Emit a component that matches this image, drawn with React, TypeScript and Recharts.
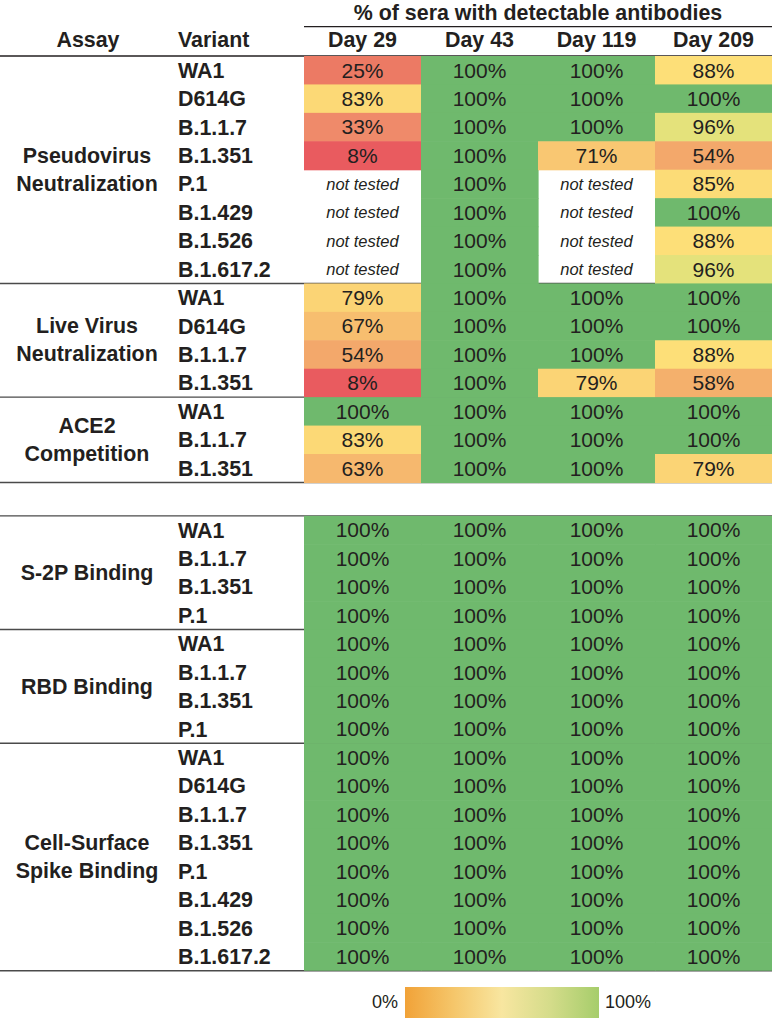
import React from 'react';
import { ScatterChart, Scatter, XAxis, YAxis, ReferenceLine } from 'recharts';

// ---------- data ----------
const days = ['Day 29', 'Day 43', 'Day 119', 'Day 209'];
const title = '% of sera with detectable antibodies';
const assayNames: string[][] = [
  ['Pseudovirus', 'Neutralization'],
  ['Live Virus', 'Neutralization'],
  ['ACE2', 'Competition'],
  ['S-2P Binding'],
  ['RBD Binding'],
  ['Cell-Surface', 'Spike Binding'],
];
const assaySizes = [8, 4, 3, 4, 4, 8];
const variants = [
  'WA1', 'D614G', 'B.1.1.7', 'B.1.351', 'P.1', 'B.1.429', 'B.1.526', 'B.1.617.2',
  'WA1', 'D614G', 'B.1.1.7', 'B.1.351',
  'WA1', 'B.1.1.7', 'B.1.351',
  'WA1', 'B.1.1.7', 'B.1.351', 'P.1',
  'WA1', 'B.1.1.7', 'B.1.351', 'P.1',
  'WA1', 'D614G', 'B.1.1.7', 'B.1.351', 'P.1', 'B.1.429', 'B.1.526', 'B.1.617.2',
];
const day29 = [
  25, 83, 33, 8, null, null, null, null,
  79, 67, 54, 8,
  100, 83, 63,
  100, 100, 100, 100,
  100, 100, 100, 100,
  100, 100, 100, 100, 100, 100, 100, 100,
];
const day43 = [
  100, 100, 100, 100, 100, 100, 100, 100,
  100, 100, 100, 100,
  100, 100, 100,
  100, 100, 100, 100,
  100, 100, 100, 100,
  100, 100, 100, 100, 100, 100, 100, 100,
];
const day119 = [
  100, 100, 100, 71, null, null, null, null,
  100, 100, 100, 79,
  100, 100, 100,
  100, 100, 100, 100,
  100, 100, 100, 100,
  100, 100, 100, 100, 100, 100, 100, 100,
];
const day209 = [
  88, 100, 96, 54, 85, 100, 88, 96,
  100, 100, 88, 58,
  100, 100, 79,
  100, 100, 100, 100,
  100, 100, 100, 100,
  100, 100, 100, 100, 100, 100, 100, 100,
];
const seriesByDay = [day29, day43, day119, day209];
const legendTicks = ['0%', '100%'];

// ---------- layout / style ----------
const W = 772;
const H = 1026;
const PLOT_LEFT = 304;
const PLOT_TOP = 56;
const PLOT_BOTTOM = 970.7;
const GAP = 1.175; // blank band between the two tables, in row units
const GAP_BEFORE_GROUP = 3;
const FONT = '"Liberation Sans", Arial, Helvetica, sans-serif';
const INK = '#231f20';
const BOLD_SIZE = 21.4;
const VALUE_SIZE = 21;

const rowGroup: number[] = [];
assaySizes.forEach((n, g) => {
  for (let i = 0; i < n; i++) rowGroup.push(g);
});
const rowY = rowGroup.map((g, r) => r + 0.5 + (g >= GAP_BEFORE_GROUP ? GAP : 0));
const TOTAL = variants.length + GAP;
const groupBounds = assaySizes.map((n, g) => {
  const first = rowGroup.indexOf(g);
  const last = first + n - 1;
  return [rowY[first] - 0.5, rowY[last] + 0.5];
});
const groupCenters = groupBounds.map(([a, b]) => (a + b) / 2);
const separators: number[] = [];
groupBounds.forEach(([a, b]) => {
  if (!separators.some((s) => Math.abs(s - a) < 1e-6) && a > 0) separators.push(a);
  separators.push(b);
});

const cellW = (W - PLOT_LEFT) / days.length;
const cellH = (PLOT_BOTTOM - PLOT_TOP) / TOTAL;

const colorStops: [number, string][] = [
  [8, '#e95b5f'],
  [25, '#ec7a64'],
  [33, '#ef8a6a'],
  [54, '#f3a86b'],
  [58, '#f4b06c'],
  [63, '#f6b86e'],
  [67, '#f7be6f'],
  [71, '#f9c772'],
  [79, '#fbd475'],
  [83, '#fcd976'],
  [85, '#fcdc77'],
  [88, '#fddf78'],
  [96, '#e4e27b'],
  [100, '#6fb96d'],
];
const colorFor = (v: number) => {
  let best = colorStops[0];
  for (const s of colorStops) if (Math.abs(s[0] - v) < Math.abs(best[0] - v)) best = s;
  return best[1];
};

const dayData = seriesByDay.map((vals, d) =>
  vals.map((v, r) => ({ x: d + 0.5, y: rowY[r], v }))
);

// ---------- renderers ----------
const CellShape = (props: any) => {
  const { cx, cy, payload } = props;
  const v = payload.v;
  if (v == null) {
    return (
      <text x={cx} y={cy + 6} textAnchor="middle" fontSize={16.5} fontStyle="italic" fill={INK} fontFamily={FONT}>
        not tested
      </text>
    );
  }
  return (
    <g>
      <rect x={cx - cellW / 2} y={cy - cellH / 2} width={cellW + 0.6} height={cellH + 0.6} fill={colorFor(v)} />
      <text x={cx} y={cy + 7.4} textAnchor="middle" fontSize={VALUE_SIZE} fill={INK} fontFamily={FONT}>
        {`${v}%`}
      </text>
    </g>
  );
};

const VariantTick = (props: any) => {
  const { y, payload } = props;
  const idx = rowY.findIndex((v) => Math.abs(v - payload.value) < 1e-6);
  return (
    <text x={178} y={y + 7.5} fontSize={BOLD_SIZE} fontWeight="bold" fill={INK} fontFamily={FONT}>
      {variants[idx]}
    </text>
  );
};

const AssayTick = (props: any) => {
  const { y, payload } = props;
  const idx = groupCenters.findIndex((v) => Math.abs(v - payload.value) < 1e-6);
  const lines = assayNames[idx] || [];
  const offsets = lines.length === 2 ? [-7, 21.2] : [7.5];
  return (
    <text textAnchor="middle" fontSize={BOLD_SIZE} fontWeight="bold" fill={INK} fontFamily={FONT}>
      {lines.map((l, i) => (
        <tspan key={i} x={87} y={y + offsets[i]}>
          {l}
        </tspan>
      ))}
    </text>
  );
};

const DayTick = (props: any) => {
  const { x, payload } = props;
  return (
    <text x={x} y={47} textAnchor="middle" fontSize={BOLD_SIZE} fontWeight="bold" fill={INK} fontFamily={FONT}>
      {days[Math.floor(payload.value)]}
    </text>
  );
};

const Decor = () => (
  <g fontFamily={FONT} fill={INK}>
    <text x={(PLOT_LEFT + W) / 2} y={19.5} textAnchor="middle" fontSize={BOLD_SIZE} fontWeight="bold">
      {title}
    </text>
    <line x1={PLOT_LEFT} x2={W} y1={26.7} y2={26.7} stroke={INK} strokeWidth={1.3} />
    <text x={88} y={47} textAnchor="middle" fontSize={BOLD_SIZE} fontWeight="bold">
      Assay
    </text>
    <text x={178} y={47} fontSize={BOLD_SIZE} fontWeight="bold">
      Variant
    </text>
    <defs>
      <linearGradient id="scaleGrad" x1="0" x2="1" y1="0" y2="0">
        <stop offset="0%" stopColor="#f1a238" />
        <stop offset="25%" stopColor="#f5c66a" />
        <stop offset="50%" stopColor="#f8e6a0" />
        <stop offset="75%" stopColor="#d4dc8a" />
        <stop offset="100%" stopColor="#a6cd6b" />
      </linearGradient>
    </defs>
    <rect x={405} y={987} width={194} height={31} fill="url(#scaleGrad)" />
    <text x={398} y={1007.5} textAnchor="end" fontSize={18}>
      {legendTicks[0]}
    </text>
    <text x={605} y={1007.5} fontSize={18}>
      {legendTicks[1]}
    </text>
  </g>
);

const FullLine = (color: string, width: number) => (props: any) => (
  <line x1={0} x2={W} y1={props.y1} y2={props.y1} stroke={color} strokeWidth={width} />
);

export default function App() {
  return (
    <div style={{ width: W, height: H }}>
      <style>{'body{margin:0;}'}</style>
      <ScatterChart
        width={W}
        height={H}
        margin={{ top: 0, right: 0, bottom: H - PLOT_BOTTOM, left: 0 }}
        style={{ fontFamily: FONT }}
      >
        <XAxis
          type="number"
          dataKey="x"
          orientation="top"
          height={PLOT_TOP}
          domain={[0, days.length]}
          allowDataOverflow
          ticks={days.map((_, i) => i + 0.5)}
          interval={0}
          tick={<DayTick />}
          axisLine={false}
          tickLine={false}
          label={<Decor />}
        />
        <YAxis
          yAxisId="a"
          type="number"
          dataKey="y"
          width={154}
          domain={[0, TOTAL]}
          allowDataOverflow
          reversed
          ticks={groupCenters}
          interval={0}
          tick={<AssayTick />}
          axisLine={false}
          tickLine={false}
        />
        <YAxis
          yAxisId="v"
          type="number"
          dataKey="y"
          width={150}
          domain={[0, TOTAL]}
          allowDataOverflow
          reversed
          ticks={rowY}
          interval={0}
          tick={<VariantTick />}
          axisLine={false}
          tickLine={false}
        />
        {dayData.map((d, i) => (
          <Scatter
            key={days[i]}
            name={days[i]}
            data={d}
            yAxisId="v"
            shape={<CellShape />}
            isAnimationActive={false}
          />
        ))}
        <ReferenceLine yAxisId="v" y={0} shape={FullLine(INK, 1.5)} ifOverflow="visible" />
        {separators.map((s) => (
          <ReferenceLine key={s} yAxisId="v" y={s} shape={FullLine('#4a4a4a', 1.4)} ifOverflow="visible" />
        ))}
      </ScatterChart>
    </div>
  );
}
